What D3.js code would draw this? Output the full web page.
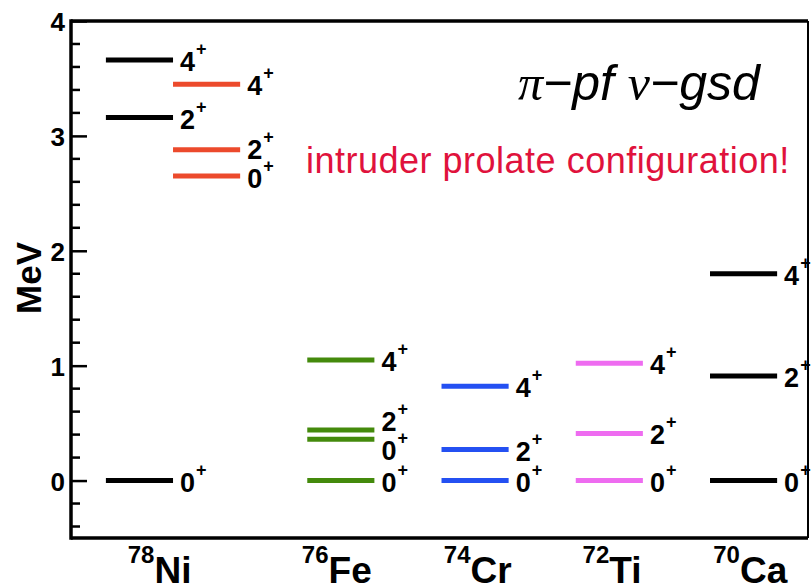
<!DOCTYPE html>
<html>
<head>
<meta charset="utf-8">
<script src="https://cdn.jsdelivr.net/npm/d3@7"></script>
<style>
  html, body { margin: 0; padding: 0; background: #fff; }
  svg { display: block; }
  text { font-family: "Liberation Sans", Arial, sans-serif; }
</style>
</head>
<body>
<svg id="chart" width="811" height="588"></svg>
<script>
// Level energies (MeV) and spins for each column of the level scheme
const columns      = ["Ni", "Ni-intruder", "Fe", "Cr", "Ti", "Ca"];
const columnPos    = [0, 0.5, 1.5, 2.5, 3.5, 4.5];
const columnColors = ["#000000", "#ec4a2c", "#448a0c", "#2450f2", "#ee6cf0", "#000000"];

const ni78Energy         = [0, 3.16, 3.66];
const ni78Spin           = ["0", "2", "4"];
const ni78IntruderEnergy = [2.65, 2.88, 3.45];
const ni78IntruderSpin   = ["0", "2", "4"];
const fe76Energy         = [0, 0.36, 0.44, 1.05];
const fe76Spin           = ["0", "0", "2", "4"];
const cr74Energy         = [0, 0.27, 0.82];
const cr74Spin           = ["0", "2", "4"];
const ti72Energy         = [0, 0.41, 1.02];
const ti72Spin           = ["0", "2", "4"];
const ca70Energy         = [0, 0.91, 1.80];
const ca70Spin           = ["0", "2", "4"];

// Nucleus labels under the axis
const massNumbers = ["78", "76", "74", "72", "70"];
const elements    = ["Ni", "Fe", "Cr", "Ti", "Ca"];
const elementPos  = [0.15, 1.47, 2.52, 3.52, 4.55];

// Energy axis ticks
const yMajorTicks = [0, 1, 2, 3, 4];
const yDomain = [-0.5, 4];

const energies = [ni78Energy, ni78IntruderEnergy, fe76Energy, cr74Energy, ti72Energy, ca70Energy];
const spins    = [ni78Spin, ni78IntruderSpin, fe76Spin, cr74Spin, ti72Spin, ca70Spin];

const levels = [];
columns.forEach((c, i) => {
  energies[i].forEach((e, j) => {
    levels.push({ column: c, pos: columnPos[i], color: columnColors[i], energy: e, spin: spins[i][j] });
  });
});

const svg = d3.select("#chart");
const plot = { left: 71, right: 808, top: 21, bottom: 538 };

const x = d3.scaleLinear().domain([-0.51, 4.98]).range([plot.left, plot.right]);
const y = d3.scaleLinear().domain(yDomain).range([plot.bottom, plot.top]);
const halfWidth = 0.25;

// Frame
svg.append("line").attr("x1", plot.left).attr("x2", plot.right)
  .attr("y1", plot.top).attr("y2", plot.top).attr("stroke", "#000").attr("stroke-width", 3.5);
svg.append("line").attr("x1", plot.left).attr("x2", plot.right)
  .attr("y1", plot.bottom).attr("y2", plot.bottom).attr("stroke", "#000").attr("stroke-width", 3.5);
svg.append("line").attr("x1", plot.right).attr("x2", plot.right)
  .attr("y1", plot.top).attr("y2", plot.bottom).attr("stroke", "#000").attr("stroke-width", 2);

// Left axis with inward ticks
const yAxis = d3.axisRight(y).tickValues(yMajorTicks).tickSize(16).tickFormat("");
const gAxis = svg.append("g").attr("transform", `translate(${plot.left},0)`).call(yAxis);
gAxis.select(".domain").attr("stroke-width", 3.5).attr("d", `M0,${plot.top - 1.75}V${plot.bottom + 1.75}`);
gAxis.selectAll(".tick line").attr("stroke-width", 2.5);

const minorTicks = d3.range(-0.4, 4.0001, 0.2).filter(v => Math.abs(v - Math.round(v)) > 1e-6);
svg.append("g").selectAll("line").data(minorTicks).join("line")
  .attr("x1", plot.left).attr("x2", plot.left + 9)
  .attr("y1", d => y(d)).attr("y2", d => y(d))
  .attr("stroke", "#000").attr("stroke-width", 2.5);

svg.append("g").selectAll("text").data(yMajorTicks).join("text")
  .attr("x", plot.left - 6).attr("y", d => y(d) + 10)
  .attr("text-anchor", "end")
  .attr("font-size", 26).attr("font-weight", "bold")
  .text(d => d);

svg.append("text")
  .attr("transform", "translate(41,278) rotate(-90)")
  .attr("text-anchor", "middle")
  .attr("font-size", 35).attr("font-weight", "bold")
  .text("MeV");

// Level lines
svg.append("g").selectAll("line").data(levels).join("line")
  .attr("x1", d => x(d.pos - halfWidth)).attr("x2", d => x(d.pos + halfWidth))
  .attr("y1", d => y(d.energy)).attr("y2", d => y(d.energy))
  .attr("stroke", d => d.color).attr("stroke-width", 5);

// Spin labels, pushed apart where two levels sit close together
const labelGap = 29;
columns.forEach(c => {
  const col = levels.filter(d => d.column === c).sort((a, b) => b.energy - a.energy);
  col.forEach(d => { d.ly = y(d.energy) + 11; });
  for (let k = 1; k < col.length; k++) {
    const gap = col[k].ly - col[k - 1].ly;
    if (gap < labelGap) {
      const shift = (labelGap - gap) / 2;
      col[k - 1].ly -= shift;
      col[k].ly += shift;
    }
  }
});

const spinLabels = svg.append("g").selectAll("text").data(levels).join("text")
  .attr("x", d => x(d.pos + halfWidth) + 7)
  .attr("y", d => d.ly)
  .attr("font-weight", "bold");
spinLabels.append("tspan").attr("font-size", 27).text(d => d.spin);
spinLabels.append("tspan").attr("font-size", 18).attr("dx", 1).attr("dy", -16).text("+");

// Nucleus labels
const nucLabels = svg.append("g").selectAll("text").data(elements).join("text")
  .attr("x", (d, i) => x(elementPos[i]))
  .attr("y", 583)
  .attr("text-anchor", "middle")
  .attr("font-weight", "bold");
nucLabels.append("tspan").attr("font-size", 24).attr("dy", -20).text((d, i) => massNumbers[i]);
nucLabels.append("tspan").attr("font-size", 37).attr("dy", 20).text(d => d);

// Model-space annotation
const title = svg.append("text").attr("x", 518).attr("y", 100)
  .attr("font-size", 50).attr("font-style", "italic");
title.append("tspan").attr("font-family", "Liberation Serif").text("π");
title.append("tspan").text("−pf ");
title.append("tspan").attr("font-family", "Liberation Serif").text("ν");
title.append("tspan").text("−gsd");

svg.append("text").attr("x", 306).attr("y", 173)
  .attr("font-size", 36).attr("letter-spacing", 0.5).attr("fill", "#e0123c")
  .text("intruder prolate configuration!");
</script>
</body>
</html>
